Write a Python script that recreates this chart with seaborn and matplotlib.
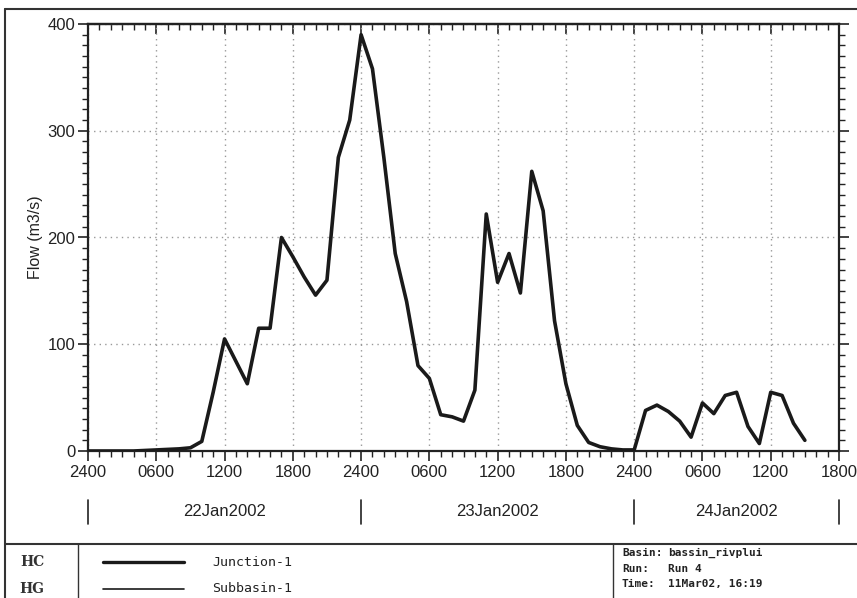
import matplotlib
matplotlib.use("Agg")
import matplotlib.pyplot as plt
import matplotlib.transforms as mtrans
from matplotlib.lines import Line2D
from matplotlib.ticker import MultipleLocator, FixedLocator
import seaborn as sns
import pandas as pd

# ---------------- data ----------------
hours = list(range(0, 64))
junction_flow = [0, 0, 0, 0, 0, 0.5,
                 1, 1.5, 2, 3, 9, 55,
                 105, 84, 63, 115, 115, 200,
                 182, 163, 146, 160, 275, 310,
                 390, 358, 275, 185, 140, 80,
                 68, 34, 32, 28, 57, 222,
                 158, 185, 148, 262, 225, 122,
                 63, 24, 8, 4, 2, 1,
                 1, 38, 43, 37, 28, 13,
                 45, 35, 52, 55, 23, 7,
                 55, 52, 26, 10]
subbasin_flow = [0, 0, 0, 0, 0, 0.5,
                 1, 1.5, 2, 3, 9, 55,
                 105, 84, 63, 115, 115, 200,
                 182, 163, 146, 160, 275, 310,
                 390, 358, 275, 185, 140, 80,
                 68, 34, 32, 28, 57, 222,
                 158, 185, 148, 262, 225, 122,
                 63, 24, 8, 4, 2, 1,
                 1, 38, 43, 37, 28, 13,
                 45, 35, 52, 55, 23, 7,
                 55, 52, 26, 10]
xtick_pos = [0, 6, 12, 18, 24, 30, 36, 42, 48, 54, 60, 66]
xtick_labels = ["2400", "0600", "1200", "1800", "2400", "0600",
                "1200", "1800", "2400", "0600", "1200", "1800"]
ytick_pos = [0, 100, 200, 300, 400]
day_labels = ["22Jan2002", "23Jan2002", "24Jan2002"]
day_bounds = [0, 24, 48, 66]
series_names = ["Junction-1", "Subbasin-1"]
info_keys = ["Basin:", "Run:", "Time:"]
info_vals = ["bassin_rivplui", "Run 4", "11Mar02, 16:19"]

df = pd.DataFrame({"hour": hours, "Junction-1": junction_flow,
                   "Subbasin-1": subbasin_flow})

# ---------------- style ----------------
sns.set_style("white")
LABEL_FONT = ["Liberation Sans Narrow", "Liberation Sans", "DejaVu Sans"]
MONO_FONT = ["DejaVu Sans Mono"]
plt.rcParams["font.family"] = LABEL_FONT

W, H = 857, 598
fig = plt.figure(figsize=(W / 100, H / 100), dpi=100)

def fx(px):
    return px / W

def fy(py):
    return 1 - py / H

ax = fig.add_axes([fx(88), fy(451), fx(839) - fx(88), fy(24) - fy(451)])

sns.lineplot(data=df, x="hour", y="Subbasin-1", ax=ax, color="#222222",
             linewidth=1.0, zorder=3)
sns.lineplot(data=df, x="hour", y="Junction-1", ax=ax, color="#1a1a1a",
             linewidth=2.6, zorder=4)

ax.set_xlim(0, 66)
ax.set_ylim(0, 400)
ax.set_xlabel("")
ax.set_ylabel("Flow (m3/s)", fontsize=11.5, labelpad=3, color="#222222")

ax.xaxis.set_major_locator(FixedLocator(xtick_pos))
ax.set_xticklabels(xtick_labels)
ax.xaxis.set_minor_locator(MultipleLocator(1))
ax.yaxis.set_major_locator(FixedLocator(ytick_pos))
ax.set_yticklabels([str(v) for v in ytick_pos])
ax.yaxis.set_minor_locator(MultipleLocator(10))

ax.tick_params(axis="both", which="major", labelsize=12, colors="#222222",
               direction="out", length=7, width=1.2)
ax.tick_params(axis="both", which="minor", direction="out", length=4,
               width=1.0, color="#222222")
ax.tick_params(axis="y", which="both", left=True, right=True)
ax.tick_params(axis="x", which="both", bottom=True, pad=3)
ax.tick_params(axis="y", which="major", pad=2)

top = ax.secondary_xaxis("top")
top.xaxis.set_major_locator(FixedLocator(xtick_pos))
top.xaxis.set_minor_locator(MultipleLocator(1))
top.tick_params(which="major", direction="in", length=7, width=1.2,
                labeltop=False, color="#222222")
top.tick_params(which="minor", direction="in", length=4, width=1.0,
                color="#222222")
top.spines["top"].set_linewidth(1.6)

for sp in ax.spines.values():
    sp.set_linewidth(1.6)
    sp.set_color("#222222")

ax.grid(True, which="major", color="#999999", linestyle=(0, (1, 3)),
        linewidth=1.0)
ax.set_axisbelow(True)

# day separators and labels
blend = mtrans.blended_transform_factory(ax.transData, fig.transFigure)
for b in day_bounds:
    ax.plot([b, b], [fy(500), fy(524)], transform=blend, color="#222222",
            linewidth=1.2, clip_on=False)
for i, lab in enumerate(day_labels):
    mid = (day_bounds[i] + day_bounds[i + 1]) / 2
    ax.text(mid, fy(511), lab, transform=blend, ha="center", va="center",
            fontsize=12, color="#222222")

# ---------------- frame / legend panel ----------------
frame_color = "#333333"
fig.add_artist(Line2D([fx(5), fx(5)], [fy(9), 0], transform=fig.transFigure,
                      color=frame_color, linewidth=1.5))
fig.add_artist(Line2D([fx(5), 1], [fy(9), fy(9)], transform=fig.transFigure,
                      color=frame_color, linewidth=1.5))
fig.add_artist(Line2D([fx(5), 1], [fy(544), fy(544)], transform=fig.transFigure,
                      color=frame_color, linewidth=1.5))
fig.add_artist(Line2D([fx(78), fx(78)], [fy(544), 0], transform=fig.transFigure,
                      color=frame_color, linewidth=1.0))
fig.add_artist(Line2D([fx(613), fx(613)], [fy(544), 0], transform=fig.transFigure,
                      color=frame_color, linewidth=1.0))

row_y = [562, 589]
line_w = [2.4, 1.2]
icons = ["HC", "HG"]
for name, ry, lw, ic in zip(series_names, row_y, line_w, icons):
    fig.add_artist(Line2D([fx(103), fx(184)], [fy(ry), fy(ry)],
                          transform=fig.transFigure, color="#1a1a1a",
                          linewidth=lw))
    fig.text(fx(212), fy(ry), name, ha="left", va="center", fontsize=9.5,
             family=MONO_FONT, color="#222222")
    fig.text(fx(32), fy(ry), ic, ha="center", va="center", fontsize=10,
             family=["DejaVu Serif"], weight="bold", color="#333333")

info_y = [553, 569, 584]
for k, v, iy in zip(info_keys, info_vals, info_y):
    fig.text(fx(622), fy(iy), k, ha="left", va="center", fontsize=8,
             family=MONO_FONT, weight="bold", color="#222222")
    fig.text(fx(668), fy(iy), v, ha="left", va="center", fontsize=8,
             family=MONO_FONT, weight="bold", color="#222222")

fig.savefig("out.png", dpi=100)
